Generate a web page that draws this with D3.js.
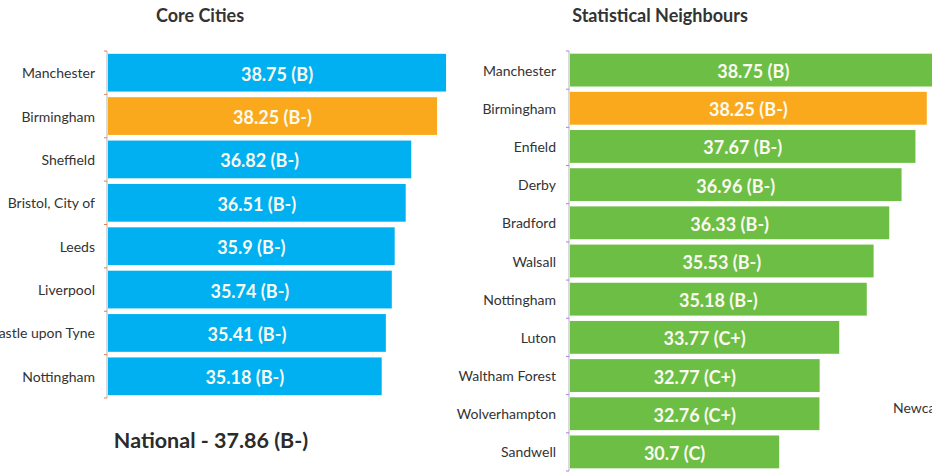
<!DOCTYPE html>
<html>
<head>
<meta charset="utf-8">
<script src="https://cdn.jsdelivr.net/npm/d3@7"></script>
<style>
  html, body { margin: 0; padding: 0; background: #fff; overflow: hidden; }
  svg { display: block; font-family: Lato, "Open Sans", sans-serif; }
</style>
</head>
<body>
<svg id="chart" width="932" height="472"></svg>
<script>
// Core Cities scores and grades
const coreCities = ["Manchester", "Birmingham", "Sheffield", "Bristol, City of", "Leeds", "Liverpool", "Newcastle upon Tyne", "Nottingham"];
const coreScores = [38.75, 38.25, 36.82, 36.51, 35.9, 35.74, 35.41, 35.18];
const coreGrades = ["B", "B-", "B-", "B-", "B-", "B-", "B-", "B-"];

// Statistical Neighbours scores and grades
const neighbours = ["Manchester", "Birmingham", "Enfield", "Derby", "Bradford", "Walsall", "Nottingham", "Luton", "Waltham Forest", "Wolverhampton", "Sandwell"];
const neighbourScores = [38.75, 38.25, 37.67, 36.96, 36.33, 35.53, 35.18, 33.77, 32.77, 32.76, 30.7];
const neighbourGrades = ["B", "B-", "B-", "B-", "B-", "B-", "B-", "C+", "C+", "C+", "C"];

const nationalScore = 37.86;
const nationalGrade = "B-";
const highlight = "Birmingham";
const xDomain = [20, 40];

const svg = d3.select("#chart");

function drawPanel(cfg) {
  const names = cfg.names, scores = cfg.scores, grades = cfg.grades;
  const rows = names.map((n, i) => ({ name: n, score: scores[i], grade: grades[i] }));

  const x = d3.scaleLinear().domain(xDomain).range([cfg.x0, cfg.x1]);
  const y = d3.scaleBand().domain(names).range([cfg.y0, cfg.y1]).paddingInner(cfg.pad).paddingOuter(cfg.pad / 2);

  const g = svg.append("g");

  // title
  g.append("text")
    .attr("x", cfg.titleX).attr("y", 15)
    .attr("text-anchor", "middle").attr("dominant-baseline", "central")
    .attr("font-size", 18).attr("font-weight", 700).attr("fill", "#333")
    .text(cfg.title);

  // bars
  g.selectAll("rect.bar").data(rows).join("rect")
    .attr("class", "bar")
    .attr("x", x(xDomain[0]))
    .attr("y", d => y(d.name))
    .attr("width", d => x(d.score) - x(xDomain[0]))
    .attr("height", y.bandwidth())
    .attr("fill", d => d.name === highlight ? "#FBA91C" : cfg.color);

  // value labels inside bars
  g.selectAll("text.val").data(rows).join("text")
    .attr("class", "val")
    .attr("x", d => (x(xDomain[0]) + x(d.score)) / 2)
    .attr("y", d => y(d.name) + y.bandwidth() / 2 + 1)
    .attr("text-anchor", "middle").attr("dominant-baseline", "central")
    .attr("font-size", 18).attr("font-weight", 700).attr("fill", "#FAFAF0")
    .text(d => `${d.score} (${d.grade})`);

  // category axis with boundary ticks
  const axisX = x(xDomain[0]) - 1;
  g.append("line")
    .attr("x1", axisX).attr("x2", axisX)
    .attr("y1", cfg.y0).attr("y2", cfg.y1)
    .attr("stroke", "#b5b5b5").attr("stroke-width", 1);
  const bounds = d3.range(names.length + 1).map(i => cfg.y0 + i * y.step());
  g.selectAll("line.tick").data(bounds).join("line")
    .attr("class", "tick")
    .attr("x1", axisX - 3).attr("x2", axisX)
    .attr("y1", d => d).attr("y2", d => d)
    .attr("stroke", cfg.tickColor).attr("stroke-width", 1);

  g.selectAll("text.cat").data(rows).join("text")
    .attr("class", "cat")
    .attr("x", cfg.labelX)
    .attr("y", d => y(d.name) + y.bandwidth() / 2)
    .attr("text-anchor", "end").attr("dominant-baseline", "central")
    .attr("font-size", 14).attr("fill", "#333")
    .text(d => d.name);
}

drawPanel({
  names: coreCities, scores: coreScores, grades: coreGrades,
  title: "Core Cities", titleX: 200,
  x0: 108, x1: 468.6, y0: 51, y1: 398, pad: 0.13,
  labelX: 95, color: "#00B0F0", tickColor: "#d9825b"
});

drawPanel({
  names: neighbours, scores: neighbourScores, grades: neighbourGrades,
  title: "Statistical Neighbours", titleX: 660,
  x0: 570, x1: 961, y0: 51, y1: 471, pad: 0.14,
  labelX: 556, color: "#6DBE45", tickColor: "#9b8cc4"
});

// national benchmark
svg.append("text")
  .attr("x", 211).attr("y", 440)
  .attr("text-anchor", "middle").attr("dominant-baseline", "central")
  .attr("font-size", 21.5).attr("font-weight", 700).attr("fill", "#2b2b2b")
  .text(`National - ${nationalScore} (${nationalGrade})`);

// label from the next panel along, running off the right edge
svg.append("text")
  .attr("x", 893).attr("y", 407)
  .attr("dominant-baseline", "central")
  .attr("font-size", 14).attr("fill", "#333")
  .text("Newcastle upon Tyne");
</script>
</body>
</html>
